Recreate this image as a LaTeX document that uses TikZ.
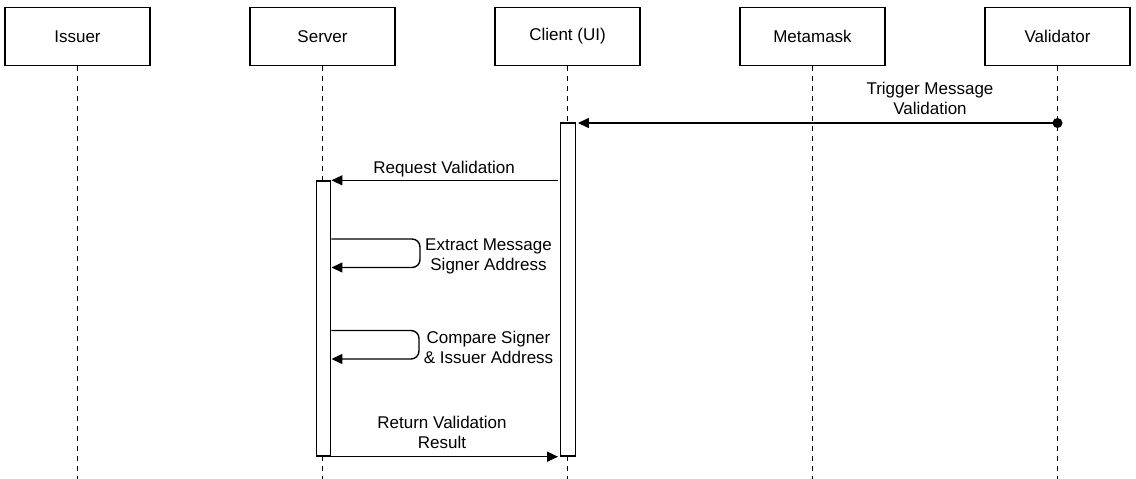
\documentclass[tikz,border=0pt]{standalone}
\usepackage{fontspec}
\setmainfont{Liberation Sans}
\usetikzlibrary{arrows.meta}
\begin{document}
\begin{tikzpicture}[x=1pt,y=-1pt,
  actor/.style={draw, line width=1.4pt, minimum width=145pt, minimum height=58pt, inner sep=0pt, font=\fontsize{17}{20}\selectfont},
  life/.style={line width=1.4pt, dash pattern=on 5pt off 5pt},
  act/.style={draw, fill=white, line width=1.4pt, minimum width=14.5pt, inner sep=0pt},
  msg/.style={line width=1.4pt, -{Triangle[length=11pt,width=10pt]}},
  lbl/.style={font=\fontsize{17}{20}\selectfont, align=center, inner sep=0pt}]
\useasboundingbox (0,0) rectangle (1136,479);
% actors
\node[actor] (issuer) at (77.5,36.5) {Issuer};
\node[actor] (server) at (322.5,36.5) {Server};
\node[actor] (client) at (567.5,36.5) {Client (UI)};
\node[actor] (metamask) at (812.5,36.5) {Metamask};
\node[actor] (validator) at (1057.5,36.5) {Validator};
% lifelines
\coordinate (issuerEnd) at (77.5,479);
\coordinate (serverEnd) at (322.5,479);
\coordinate (clientEnd) at (567.5,479);
\coordinate (metamaskEnd) at (812.5,479);
\coordinate (validatorEnd) at (1057.5,479);
\draw[life] (issuer.south) -- (issuerEnd);
\draw[life] (server.south) -- (serverEnd);
\draw[life] (client.south) -- (clientEnd);
\draw[life] (metamask.south) -- (metamaskEnd);
\draw[life] (validator.south) -- (validatorEnd);
% activations
\node[act, minimum height=275pt] (serverAct) at (323.5,318.5) {};
\node[act, minimum height=333pt] (clientAct) at (568,289.5) {};
% trigger
\node[circle, fill, inner sep=0pt, minimum size=10pt] (dot) at (1057.5,123) {};
\draw[msg] (dot.center) -- ([xshift=2pt]clientAct.east |- dot.center);
\node[lbl] (trigLbl) at (930,98) {Trigger Message\\Validation};
% request
\draw[msg] ([xshift=-2pt]clientAct.west |- serverAct.north) -- (serverAct.north east);
\node[lbl] (reqLbl) at (444,169.5) {Request Validation};
% self loops
\draw[msg, rounded corners=8pt] (serverAct.east |- 0,239) -- (420,239) -- (420,267.5) -- (serverAct.east |- 0,267.5);
\node[lbl] (extLbl) at (488.5,256.5) {Extract Message\\Signer Address};
\draw[msg, rounded corners=8pt] (serverAct.east |- 0,330.5) -- (419,330.5) -- (419,359) -- (serverAct.east |- 0,359);
\node[lbl] (cmpLbl) at (488.5,347.5) {Compare Signer\\\& Issuer Address};
% return
\draw[msg] (serverAct.south east) -- ([xshift=-2pt]clientAct.south west);
\node[lbl] (retLbl) at (442,432) {Return Validation\\Result};
\end{tikzpicture}
\end{document}
